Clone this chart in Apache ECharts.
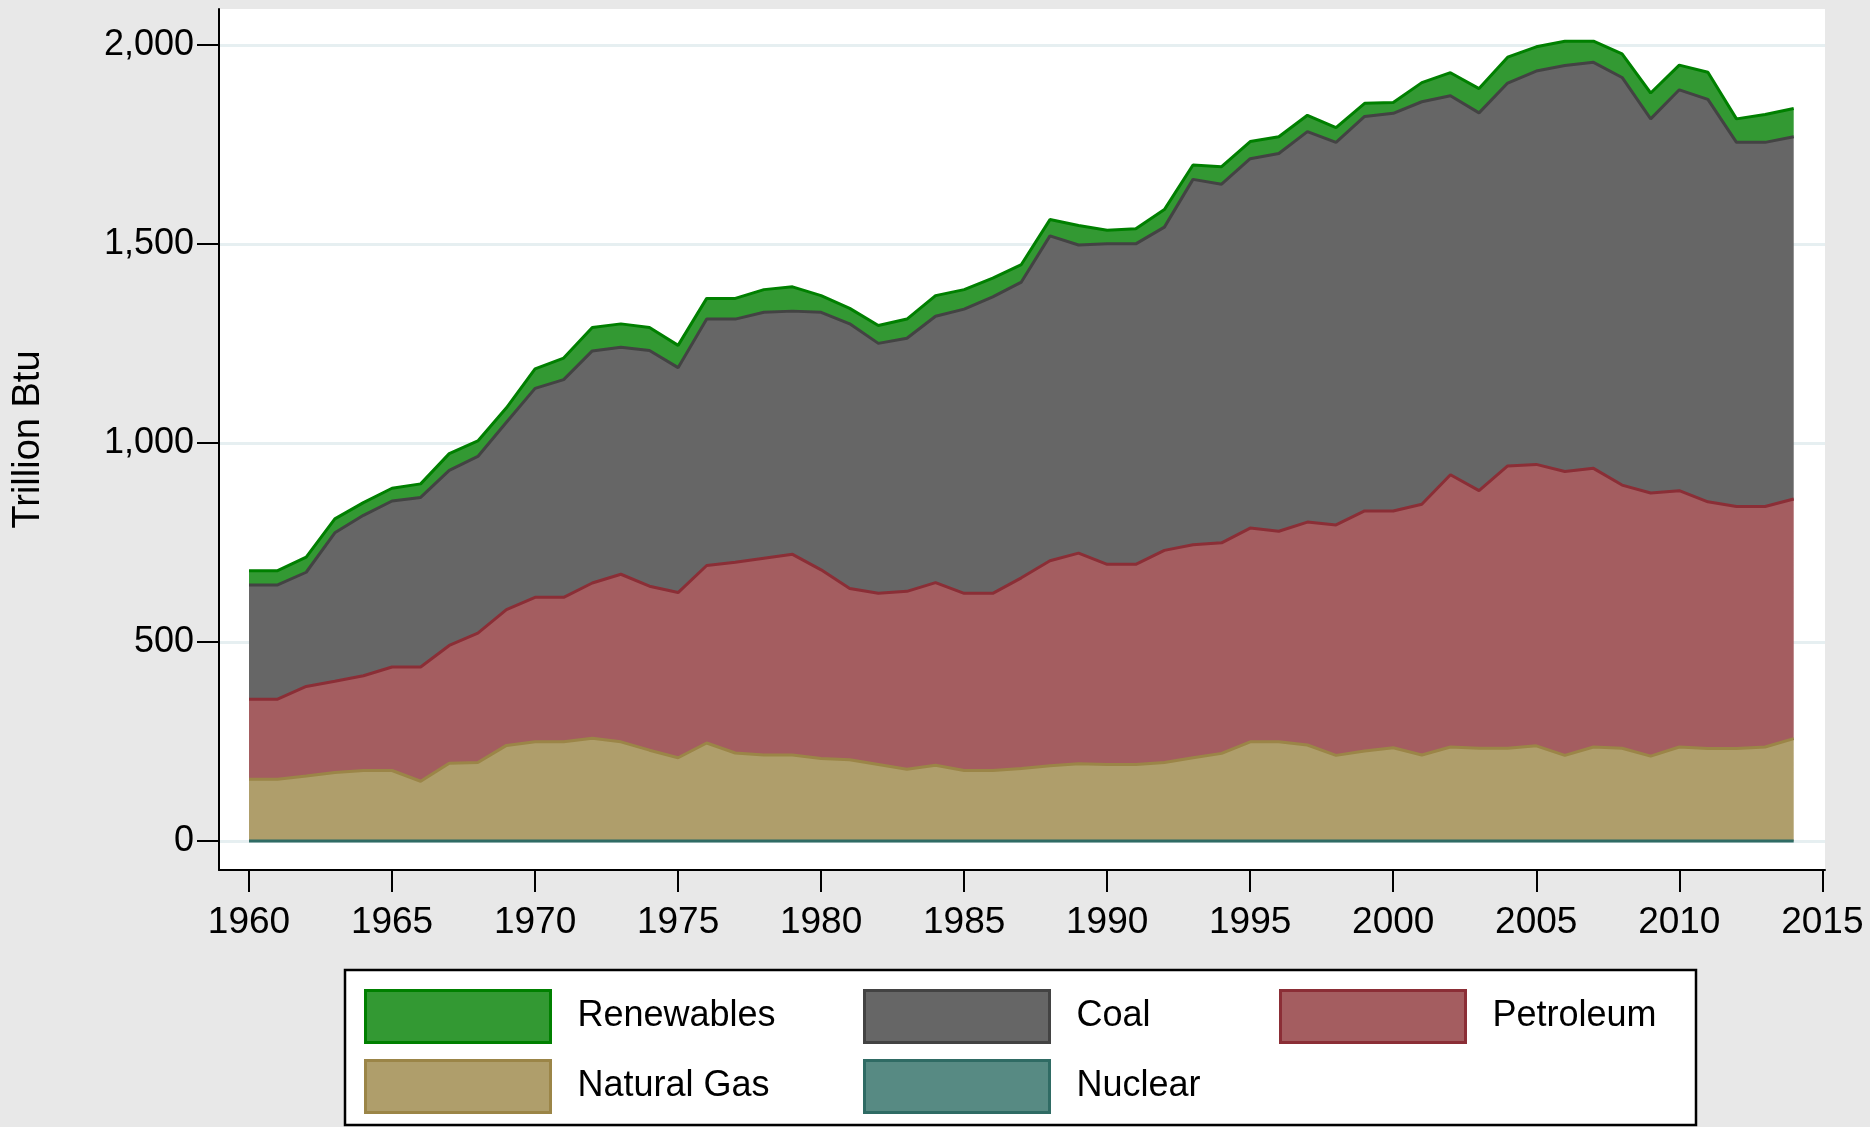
<!DOCTYPE html>
<html><head><meta charset="utf-8">
<script src="https://cdn.jsdelivr.net/npm/echarts@6/dist/echarts.min.js"></script>
<style>html,body{margin:0;padding:0;background:#e8e8e8;}#c{width:1870px;height:1127px;}</style>
</head><body><div id="c"></div>
<script>
const years = [1960,1961,1962,1963,1964,1965,1966,1967,1968,1969,1970,1971,1972,1973,1974,1975,1976,1977,1978,1979,1980,1981,1982,1983,1984,1985,1986,1987,1988,1989,1990,1991,1992,1993,1994,1995,1996,1997,1998,1999,2000,2001,2002,2003,2004,2005,2006,2007,2008,2009,2010,2011,2012,2013,2014];
const nuclear = [0,0,0,0,0,0,0,0,0,0,0,0,0,0,0,0,0,0,0,0,0,0,0,0,0,0,0,0,0,0,0,0,0,0,0,0,0,0,0,0,0,0,0,0,0,0,0,0,0,0,0,0,0,0,0];
const naturalGas = [155,155,163,172,177,177,150,195,197,240,249,249,258,249,228,209,246,221,216,216,207,204,192,180,190,177,177,182,189,194,192,192,197,209,220,249,249,241,215,226,234,216,236,233,233,239,215,236,233,213,236,232,232,236,257];
const petroleum = [201,201,225,229,238,260,287,296,325,341,363,363,390,421,412,415,446,479,494,504,474,430,430,447,459,445,445,479,515,529,503,503,533,535,529,537,529,560,579,603,595,630,684,647,709,707,713,700,661,661,644,620,608,604,602];
const coal = [287,287,287,373,403,417,426,440,444,471,525,547,583,570,592,565,619,611,618,611,647,665,628,636,669,714,745,743,816,774,805,805,812,918,901,928,949,981,961,991,999,1011,952,949,962,988,1020,1020,1024,940,1007,1011,915,915,910];
const renewables = [36,36,38,35,32,32,34,42,39,36,49,54,59,59,58,56,52,52,57,61,42,39,45,48,52,49,47,44,41,49,34,38,44,36,44,43,42,41,37,33,27,48,58,61,65,61,61,53,59,65,62,68,59,70,71];
const yTicks = [0,500,1000,1500,2000];
const xTicks = [1960,1965,1970,1975,1980,1985,1990,1995,2000,2005,2010,2015];

const FONT = "'Liberation Sans', Arial, sans-serif";
// value first (stacked dimension), year second
const pairs = arr => years.map((y, i) => [arr[i], y]);

const styles = {
  'Renewables':  {fill:'#339933', line:'#008000'},
  'Coal':        {fill:'#666666', line:'#434343'},
  'Petroleum':   {fill:'#a45d60', line:'#8b2e36'},
  'Natural Gas': {fill:'#af9e6b', line:'#9b8547'},
  'Nuclear':     {fill:'#578a83', line:'#2f6b64'}
};
function ser(name, arr, z) {
  const s = styles[name];
  return {
    name, type:'line', stack:'total', data: pairs(arr), encode:{x:1, y:0},
    symbol:'none', z,
    lineStyle:{color:s.line, width:3},
    itemStyle:{color:s.fill, borderColor:s.line},
    areaStyle:{color:s.fill, opacity:1},
    emphasis:{disabled:true}, animation:false
  };
}
function legItem(name) {
  const s = styles[name];
  return {name, itemStyle:{color:s.fill, borderColor:s.line, borderWidth:3}};
}
function leg(left, names) {
  return {
    left, top:989, orient:'vertical', itemWidth:185, itemHeight:52, itemGap:15,
    padding:0, icon:'rect', selectedMode:false, data: names.map(legItem),
    textStyle:{fontSize:36, color:'#000', fontFamily:FONT, padding:[12,0,0,22]}
  };
}

const chart = echarts.init(document.getElementById('c'), null, {renderer:'canvas'});
chart.setOption({
  backgroundColor:'#e8e8e8',
  animation:false,
  textStyle:{fontFamily:FONT},
  grid:{left:219, right:45, top:9, bottom:257, show:true, backgroundColor:'#ffffff', borderWidth:0},
  xAxis:{
    type:'value', min:1958.951, max:2015.094,
    axisLine:{onZero:false, lineStyle:{color:'#000', width:2}},
    axisTick:{customValues:xTicks, length:22, lineStyle:{color:'#000', width:2}},
    axisLabel:{customValues:xTicks, fontSize:37, color:'#000', margin:34, fontFamily:FONT,
      formatter: v => String(v)},
    splitLine:{show:false}
  },
  yAxis:{
    type:'value', min:-73, max:2090,
    name:'Trillion Btu', nameLocation:'middle', nameGap:171,
    nameTextStyle:{fontSize:38, color:'#000', fontFamily:FONT},
    axisLine:{show:true, onZero:false, lineStyle:{color:'#000', width:2}},
    axisTick:{show:true, customValues:yTicks, length:22, lineStyle:{color:'#000', width:2}},
    axisLabel:{customValues:yTicks, fontSize:36, color:'#000', margin:25, fontFamily:FONT,
      formatter: v => v.toLocaleString('en-US')},
    splitLine:{show:true, lineStyle:{color:'#e6eff1', width:3}}
  },
  legend:[
    leg(364, ['Renewables','Natural Gas']),
    leg(863, ['Coal','Nuclear']),
    leg(1279, ['Petroleum'])
  ],
  graphic:[{
    type:'rect', z:0,
    shape:{x:345, y:970, width:1351, height:155},
    style:{fill:'#ffffff', stroke:'#000000', lineWidth:2.5}
  }],
  series:[
    ser('Nuclear', nuclear, 7),
    ser('Natural Gas', naturalGas, 6),
    ser('Petroleum', petroleum, 5),
    ser('Coal', coal, 4),
    ser('Renewables', renewables, 3)
  ]
});
</script>
</body></html>
